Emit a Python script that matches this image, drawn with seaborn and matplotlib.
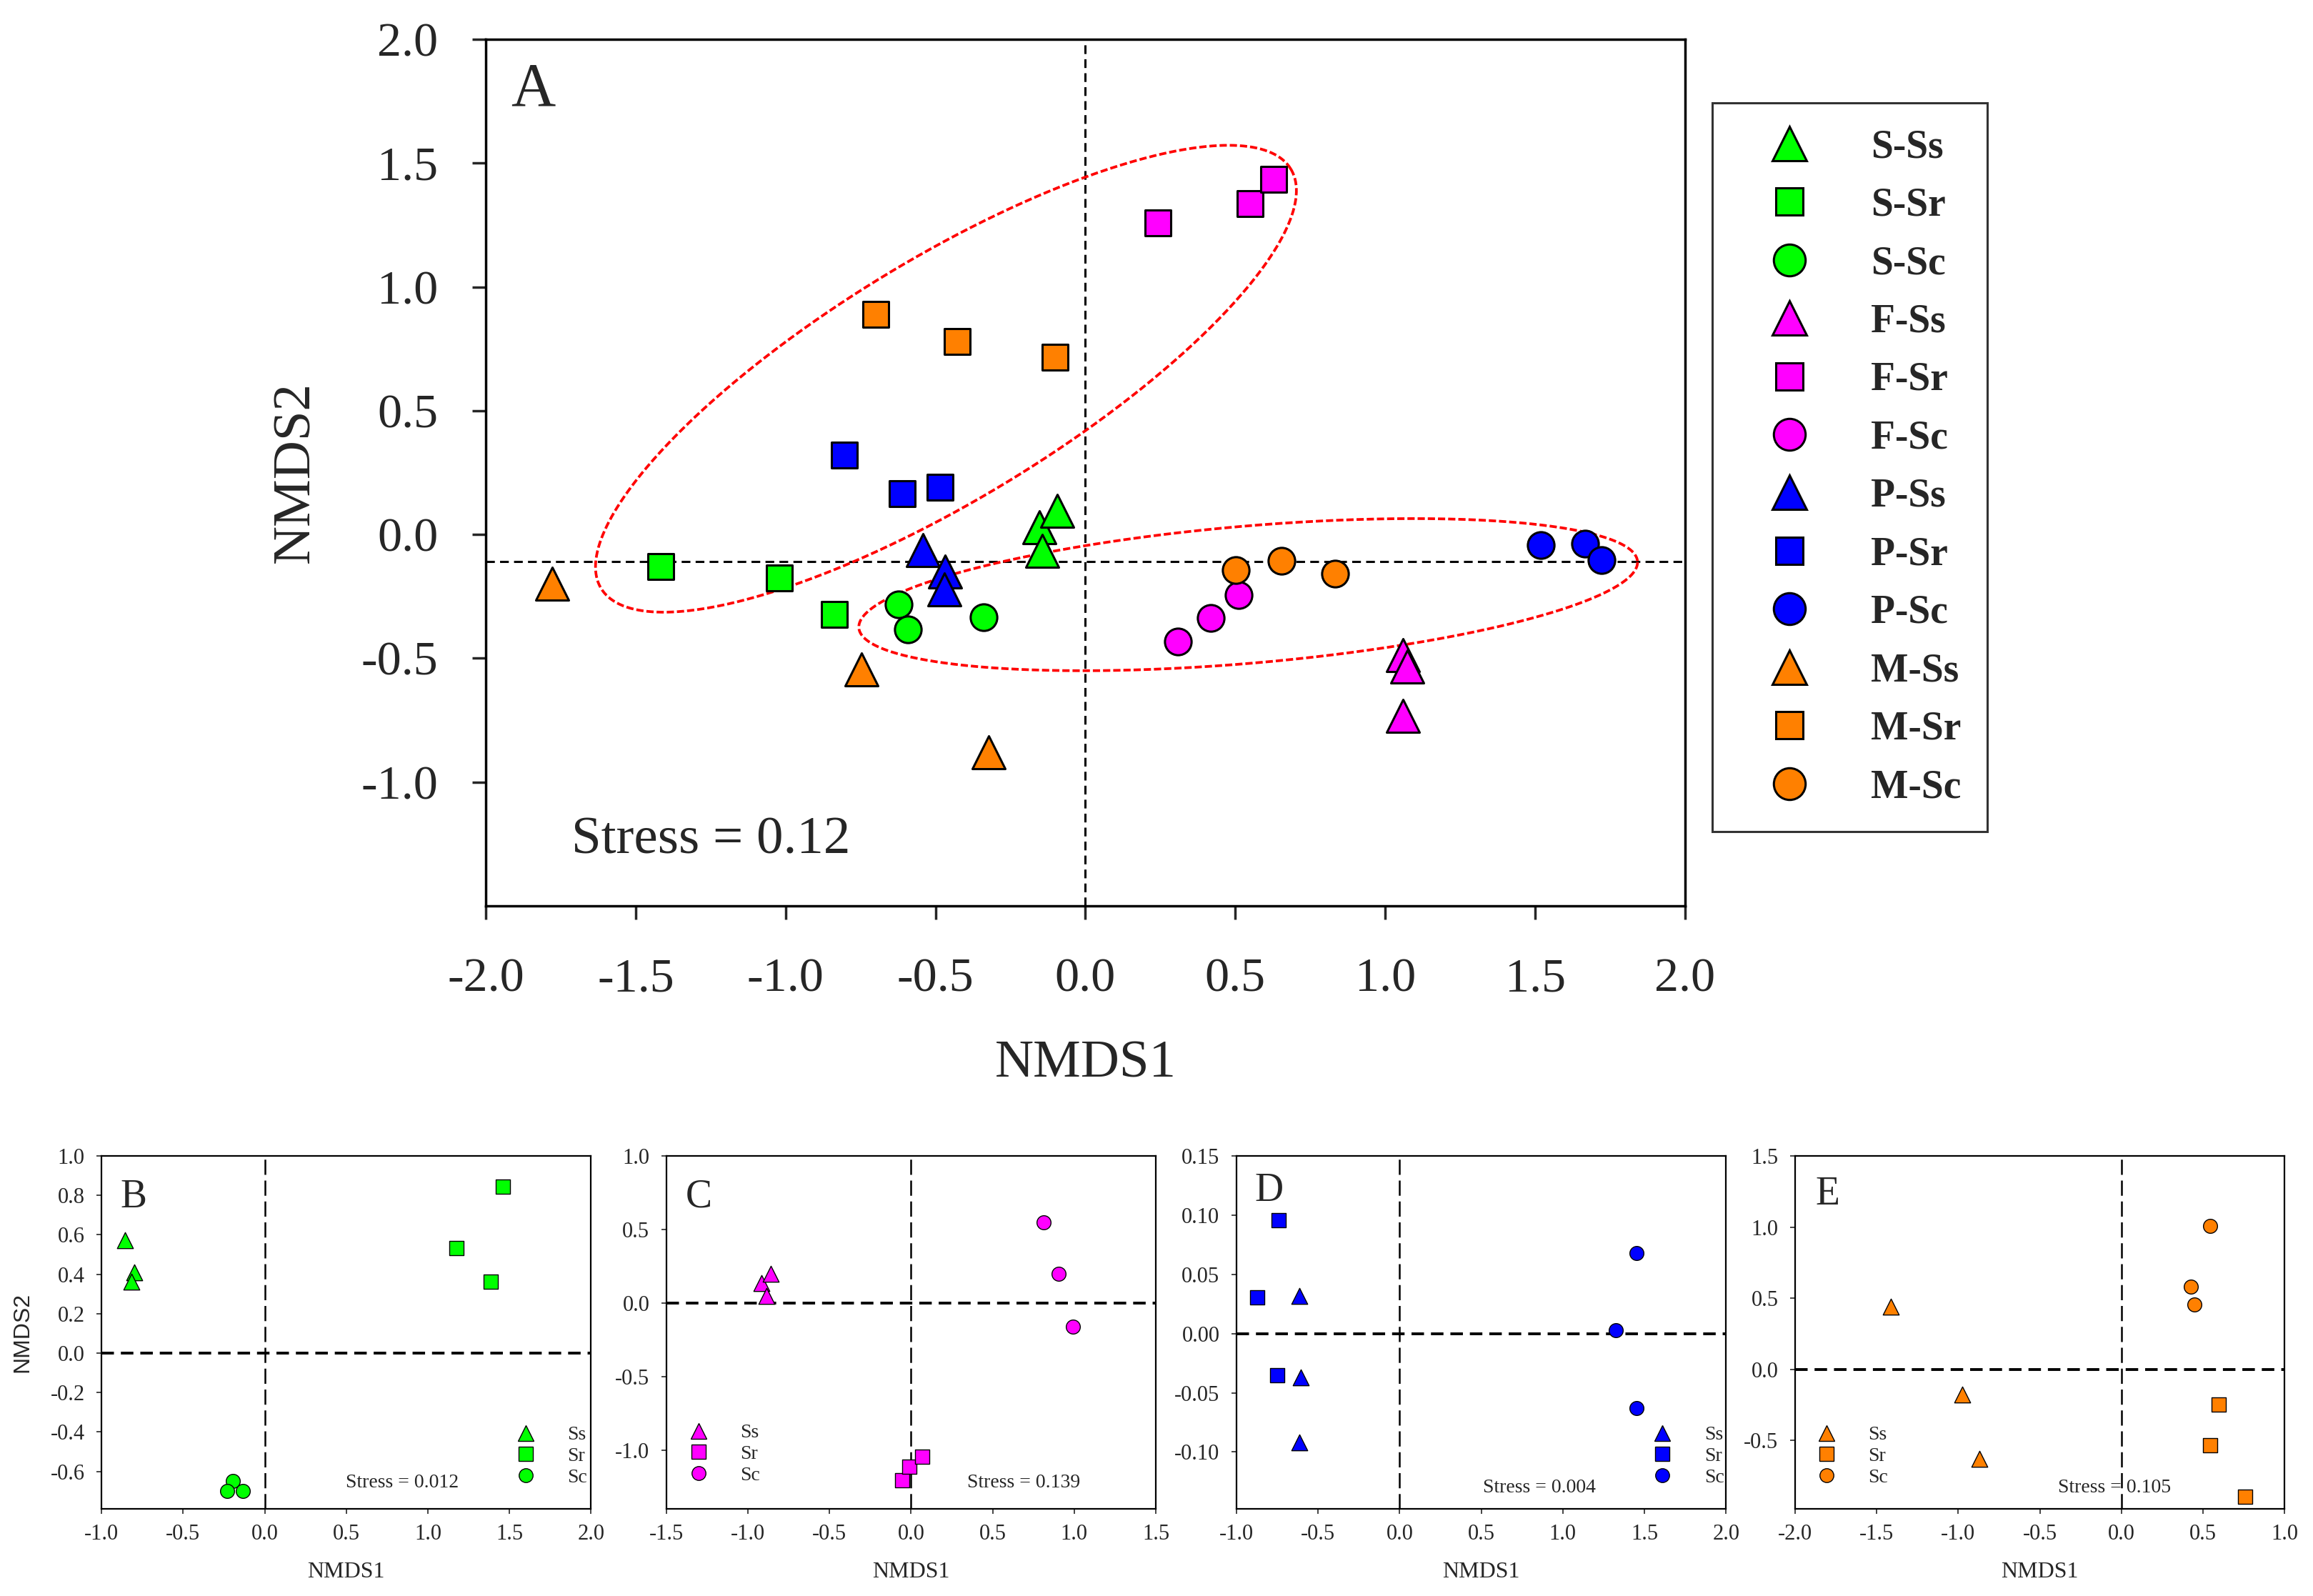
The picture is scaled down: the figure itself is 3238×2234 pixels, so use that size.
import numpy as np
import pandas as pd
import matplotlib
matplotlib.use("Agg")
import matplotlib.pyplot as plt
import seaborn as sns
from matplotlib.lines import Line2D
from matplotlib.ticker import FormatStrFormatter

# ---- data ----
groups = ["S-Ss", "S-Sr", "S-Sc", "F-Ss", "F-Sr", "F-Sc",
          "P-Ss", "P-Sr", "P-Sc", "M-Ss", "M-Sr", "M-Sc"]
main_group = [g for g in groups for _ in range(3)]
main_nmds1 = [-0.153, -0.093, -0.145,  -1.417, -1.020, -0.837,  -0.624, -0.591, -0.339,
              1.059, 1.073, 1.059,  0.243, 0.550, 0.627,  0.309, 0.419, 0.512,
              -0.542, -0.468, -0.471,  -0.804, -0.610, -0.484,  1.518, 1.666, 1.721,
              -1.778, -0.747, -0.323,  -0.698, -0.427, -0.101,  0.501, 0.654, 0.832]
main_nmds2 = [0.030, 0.096, -0.067,  -0.130, -0.175, -0.323,  -0.282, -0.383, -0.333,
              -0.486, -0.533, -0.732,  1.258, 1.337, 1.433,  -0.433, -0.337, -0.246,
              -0.062, -0.151, -0.222,  0.321, 0.165, 0.191,  -0.043, -0.038, -0.103,
              -0.199, -0.545, -0.880,  0.890, 0.778, 0.715,  -0.144, -0.105, -0.158]
main_hline = -0.11
main_stress = "Stress = 0.12"

sub_type = ["Ss"] * 3 + ["Sr"] * 3 + ["Sc"] * 3
b_x = [-0.854, -0.800, -0.817, 1.458, 1.177, 1.384, -0.194, -0.231, -0.134]
b_y = [0.571, 0.408, 0.364, 0.845, 0.532, 0.364, -0.648, -0.698, -0.698]
c_x = [-0.917, -0.862, -0.885, -0.055, -0.009, 0.069, 0.811, 0.903, 0.991]
c_y = [0.134, 0.197, 0.046, -1.205, -1.115, -1.046, 0.548, 0.197, -0.163]
d_x = [-0.614, -0.605, -0.614, -0.741, -0.872, -0.750, 1.450, 1.323, 1.450]
d_y = [0.0319, -0.0368, -0.0921, 0.0955, 0.0306, -0.0350, 0.0677, 0.0029, -0.0628]
e_x = [-1.412, -0.975, -0.871, 0.596, 0.542, 0.758, 0.542, 0.424, 0.447]
e_y = [0.442, -0.177, -0.630, -0.248, -0.535, -0.896, 1.010, 0.583, 0.457]
sub_stress = ["Stress = 0.012", "Stress = 0.139", "Stress = 0.004", "Stress = 0.105"]

# ---- styles ----
site_colors = {"S": "#00FF00", "F": "#FF00FF", "P": "#0000FF", "M": "#FF8000"}
type_markers = {"Ss": "^", "Sr": "s", "Sc": "o"}

sns.set_style("ticks")
plt.rcParams['font.family'] = ['Liberation Serif', 'DejaVu Serif']
plt.rcParams['axes.unicode_minus'] = False

fig = plt.figure(figsize=(32.38, 22.34), dpi=100)

# ================= panel A =================
ax = fig.add_axes([0.2100, 0.4324, 0.5185, 0.5430])
df = pd.DataFrame({"group": main_group, "NMDS1": main_nmds1, "NMDS2": main_nmds2})
df["site"] = df["group"].str.split("-").str[0]
df["type"] = df["group"].str.split("-").str[1]

ax.axvline(0, color="black", lw=2.2, dashes=(4, 2.4), zorder=1)
ax.axhline(main_hline, color="black", lw=2.2, dashes=(4, 2.4), zorder=1)

main_size = {"^": 1100, "s": 700, "o": 720}
for g in groups:
    sub = df[df["group"] == g]
    m = type_markers[sub["type"].iloc[0]]
    sns.scatterplot(data=sub, x="NMDS1", y="NMDS2", color=site_colors[sub["site"].iloc[0]],
                    marker=m, s=main_size[m], edgecolor="black", linewidth=2.2,
                    legend=False, ax=ax, zorder=3)

ax.set_xlim(-2.0, 2.0)
ax.set_ylim(-1.5, 2.0)
ax.set_xticks(np.arange(-2.0, 2.01, 0.5))
ax.set_yticks(np.arange(-1.0, 2.01, 0.5))
ax.xaxis.set_major_formatter(FormatStrFormatter('%.1f'))
ax.yaxis.set_major_formatter(FormatStrFormatter('%.1f'))
ax.tick_params(axis="both", direction="out", length=14, width=2.5, labelsize=49)
ax.tick_params(axis="x", pad=38)
ax.tick_params(axis="y", pad=34)
for sp in ax.spines.values():
    sp.set_linewidth(2.5)
    sp.set_color("black")
ax.set_xlabel("NMDS1", fontsize=54)
ax.set_ylabel("NMDS2", fontsize=54)
ax.xaxis.set_label_coords(0.5, -0.155)
ax.yaxis.set_label_coords(-0.138, 0.5)
ax.text(0.021, 0.941, "A", transform=ax.transAxes, fontsize=62, va="center", ha="left")
ax.text(0.188, 0.075, main_stress, transform=ax.transAxes, fontsize=54, va="center", ha="center")


# dashed ellipses drawn in screen units so the shape is independent of axis scaling
def draw_ellipse(axis, cx, cy, a_px, b_px, angle_deg):
    bb = axis.get_window_extent()
    x0, x1 = axis.get_xlim()
    y0, y1 = axis.get_ylim()
    sx = bb.width / (x1 - x0)
    sy = bb.height / (y1 - y0)
    t = np.linspace(0, 2 * np.pi, 500)
    th = np.deg2rad(angle_deg)
    px = a_px * np.cos(t) * np.cos(th) - b_px * np.sin(t) * np.sin(th)
    py = a_px * np.cos(t) * np.sin(th) + b_px * np.sin(t) * np.cos(th)
    axis.plot(cx + px / sx, cy + py / sy, color="#FF0000", lw=2.7, dashes=(2.7, 1.1), zorder=2)


draw_ellipse(ax, -0.465, 0.629, 565, 168, 31.3)
draw_ellipse(ax, 0.543, -0.243, 547, 96, 4.9)

handles = []
for g in groups:
    site, typ = g.split("-")
    m = type_markers[typ]
    ms = {"^": 34, "s": 28, "o": 32}[m]
    handles.append(Line2D([], [], linestyle="none", marker=m, markersize=ms,
                          markerfacecolor=site_colors[site], markeredgecolor="black",
                          markeredgewidth=2.2))
leg = ax.legend(handles, groups, loc="upper left", bbox_to_anchor=(0.7403, 0.9355),
                bbox_transform=fig.transFigure, borderaxespad=0,
                prop={"size": 40, "weight": "bold"}, handlelength=2.6,
                handletextpad=0.75, borderpad=0.65, labelspacing=0.53,
                frameon=True, fancybox=False, edgecolor="black")
leg.get_frame().set_linewidth(2.2)

# ================= panels B-E =================
sub_data = [(b_x, b_y), (c_x, c_y), (d_x, d_y), (e_x, e_y)]
sub_sites = ["S", "F", "P", "M"]
sub_letters = ["B", "C", "D", "E"]
sub_lefts = [0.0439, 0.2881, 0.5346, 0.7761]
sub_xlim = [(-1.0, 2.0), (-1.5, 1.5), (-1.0, 2.0), (-2.0, 1.0)]
sub_ylim = [(-0.79, 1.0), (-1.4, 1.0), (-0.148, 0.15), (-0.98, 1.5)]
sub_yticks = [np.arange(-0.6, 1.01, 0.2), np.arange(-1.0, 1.01, 0.5),
              np.arange(-0.10, 0.151, 0.05), np.arange(-0.5, 1.51, 0.5)]
sub_yfmt = ['%.1f', '%.1f', '%.2f', '%.1f']
sub_leg_pos = [(0.846, 0.235), (0.045, 0.241), (0.850, 0.235), (0.044, 0.235)]
sub_stress_pos = [(0.615, 0.073), (0.730, 0.073), (0.618, 0.059), (0.652, 0.059)]
sub_letter_pos = [(0.066, 0.883), (0.066, 0.883), (0.067, 0.900), (0.066, 0.890)]
sub_size = {"^": 260, "s": 200, "o": 200}

for i in range(4):
    sax = fig.add_axes([sub_lefts[i], 0.0546, 0.2116, 0.2211])
    xs, ys = sub_data[i]
    sdf = pd.DataFrame({"NMDS1": xs, "NMDS2": ys, "type": sub_type})
    col = site_colors[sub_sites[i]]
    sax.axvline(0, color="black", lw=1.8, dashes=(8.5, 3.2), zorder=1)
    sax.axhline(0, color="black", lw=2.8, dashes=(4.5, 2.5), zorder=1)
    for typ in ["Ss", "Sr", "Sc"]:
        m = type_markers[typ]
        sns.scatterplot(data=sdf[sdf["type"] == typ], x="NMDS1", y="NMDS2", color=col,
                        marker=m, s=sub_size[m], edgecolor="black", linewidth=1.0,
                        legend=False, ax=sax, zorder=3)
    sax.set_xlim(*sub_xlim[i])
    sax.set_ylim(*sub_ylim[i])
    sax.set_xticks(np.arange(sub_xlim[i][0], sub_xlim[i][1] + 0.01, 0.5))
    sax.set_yticks(sub_yticks[i])
    sax.xaxis.set_major_formatter(FormatStrFormatter('%.1f'))
    sax.yaxis.set_major_formatter(FormatStrFormatter(sub_yfmt[i]))
    sax.tick_params(axis="both", direction="out", length=5, width=1.2, labelsize=22)
    sax.tick_params(axis="x", pad=10)
    sax.tick_params(axis="y", pad=12)
    for sp in sax.spines.values():
        sp.set_linewidth(1.6)
        sp.set_color("black")
    sax.set_xlabel("NMDS1", fontsize=23)
    sax.xaxis.set_label_coords(0.5, -0.15)
    if i == 0:
        sax.set_ylabel("NMDS2", fontsize=23, family=["Liberation Sans", "DejaVu Sans"])
        sax.yaxis.set_label_coords(-0.14, 0.5)
    else:
        sax.set_ylabel("")
    sax.text(*sub_letter_pos[i], sub_letters[i], transform=sax.transAxes,
             fontsize=40, va="center", ha="center")
    sax.text(*sub_stress_pos[i], sub_stress[i], transform=sax.transAxes,
             fontsize=20, va="center", ha="center")
    sh = [Line2D([], [], linestyle="none", marker=type_markers[t],
                 markersize={"^": 16, "s": 14, "o": 14}[type_markers[t]],
                 markerfacecolor=col, markeredgecolor="black", markeredgewidth=1.0)
          for t in ["Ss", "Sr", "Sc"]]
    sax.legend(sh, ["Ss", "Sr", "Sc"], loc="upper left", bbox_to_anchor=sub_leg_pos[i],
               borderaxespad=0, borderpad=0, frameon=False, fontsize=20,
               handlelength=1.0, handletextpad=1.6, labelspacing=0.15)

fig.savefig("out.png", dpi=100)
